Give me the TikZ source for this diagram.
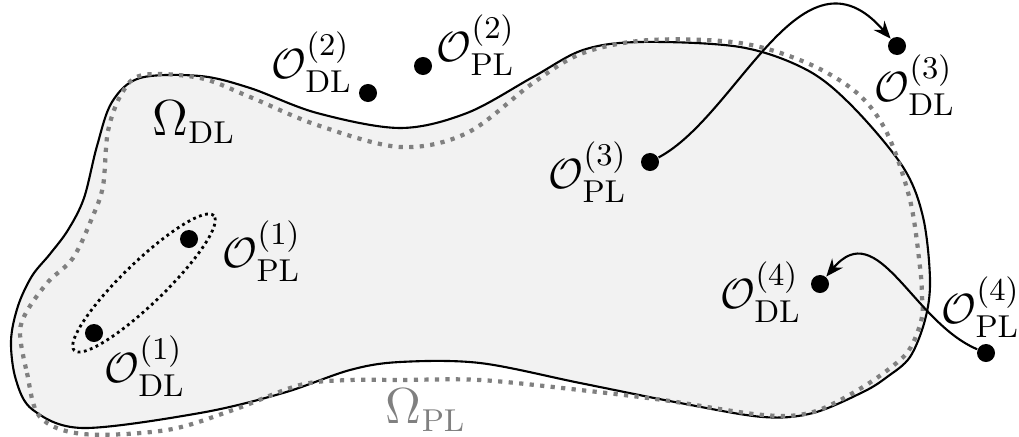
\documentclass[tikz,border=0pt]{standalone}
\usepackage{amssymb}
\usepackage{amsmath}
\usepackage{xcolor}
\usetikzlibrary{positioning,arrows.meta}

\begin{document}
\begin{tikzpicture}[
    x=0.01cm, y=0.01cm,
    dot/.style={
        circle,
        fill=black,
        inner sep=0pt,
        minimum size=0.18cm
    },
    lbl/.style={
        font=\fontsize{12.5}{15}\selectfont,
        inner sep=0pt
    },
    omega/.style={
        font=\fontsize{13.5}{16}\selectfont,
        inner sep=0pt
    },
    DL/.style={draw=black, semithick, fill=gray!10},
    PL/.style={draw=gray, line width=1.2pt, dash pattern=on 1.2pt off 1.8pt},
    hull/.style={draw=black, thick, densely dotted},
    arrow/.style={-{Stealth[length=5pt,width=4pt]}, semithick}
]
\useasboundingbox (0,0) rectangle (1019,436);

% domains
\path[DL] plot[smooth cycle, tension=0.55] coordinates {
    (11,95) (18,130) (32,160) (50,182) (68,206) (84,238) (97,290) (112,334)
    (140,358) (200,360) (250,348) (317,323) (400,308) (467,323) (533,359)
    (583,386) (640,394) (740,389) (807,366) (853,329) (903,269) (923,219)
    (930,156) (925,116) (910,79) (887,59) (863,44) (813,23) (763,19)
    (680,33) (580,53) (480,73) (400,74) (350,66) (283,43) (200,23) (83,8)
    (33,26) (16,56)};
\path[PL] plot[smooth cycle, tension=0.55] coordinates {
    (20,103) (27,63) (40,19) (83,2) (167,6) (233,26) (300,51) (350,56)
    (400,56) (480,56) (580,46) (663,36) (763,21) (813,24) (863,49) (900,76)
    (913,93) (922,119) (922,139) (920,169) (910,236) (887,303) (857,343)
    (807,373) (740,393) (650,396) (583,383) (533,353) (467,303) (400,289)
    (317,311) (250,339) (200,358) (143,361) (122,343) (108,305) (103,250)
    (92,218) (73,178) (48,154) (27,125)};

\node[omega] (omDL) at (194,314) {$\Omega_{\mathrm{DL}}$};
\node[omega, text=gray] (omPL) at (426,26) {$\Omega_{\mathrm{PL}}$};

% points
\node[dot] (dl1) at (94,103) {};
\node[dot] (pl1) at (189,197) {};
\node[dot] (dl2) at (368,343) {};
\node[dot] (pl2) at (423,370) {};
\node[dot] (pl3) at (650,274) {};
\node[dot] (dl3) at (897,390) {};
\node[dot] (dl4) at (820,152) {};
\node[dot] (pl4) at (986,83) {};

\coordinate (mid1) at (144,153);
\draw[hull, rotate around={44:(mid1)}] (mid1) ellipse (97 and 21);

% labels
\node[lbl] (Ldl1) at (145,70) {$\mathcal{O}^{(1)}_{\mathrm{DL}}$};
\node[lbl] (Lpl1) at (262,185) {$\mathcal{O}^{(1)}_{\mathrm{PL}}$};
\node[lbl] (Ldl2) at (312,374) {$\mathcal{O}^{(2)}_{\mathrm{DL}}$};
\node[lbl] (Lpl2) at (476,391) {$\mathcal{O}^{(2)}_{\mathrm{PL}}$};
\node[lbl] (Lpl3) at (588,264) {$\mathcal{O}^{(3)}_{\mathrm{PL}}$};
\node[lbl] (Ldl3) at (915,351) {$\mathcal{O}^{(3)}_{\mathrm{DL}}$};
\node[lbl] (Ldl4) at (761,144) {$\mathcal{O}^{(4)}_{\mathrm{DL}}$};
\node[lbl] (Lpl4) at (981,129) {$\mathcal{O}^{(4)}_{\mathrm{PL}}$};

\draw[arrow] (pl3) .. controls +(28:100) and +(131:145) .. (dl3);
\draw[arrow] (pl4) .. controls +(157:80) and +(50:90) .. (dl4);

\end{tikzpicture}
\end{document}
